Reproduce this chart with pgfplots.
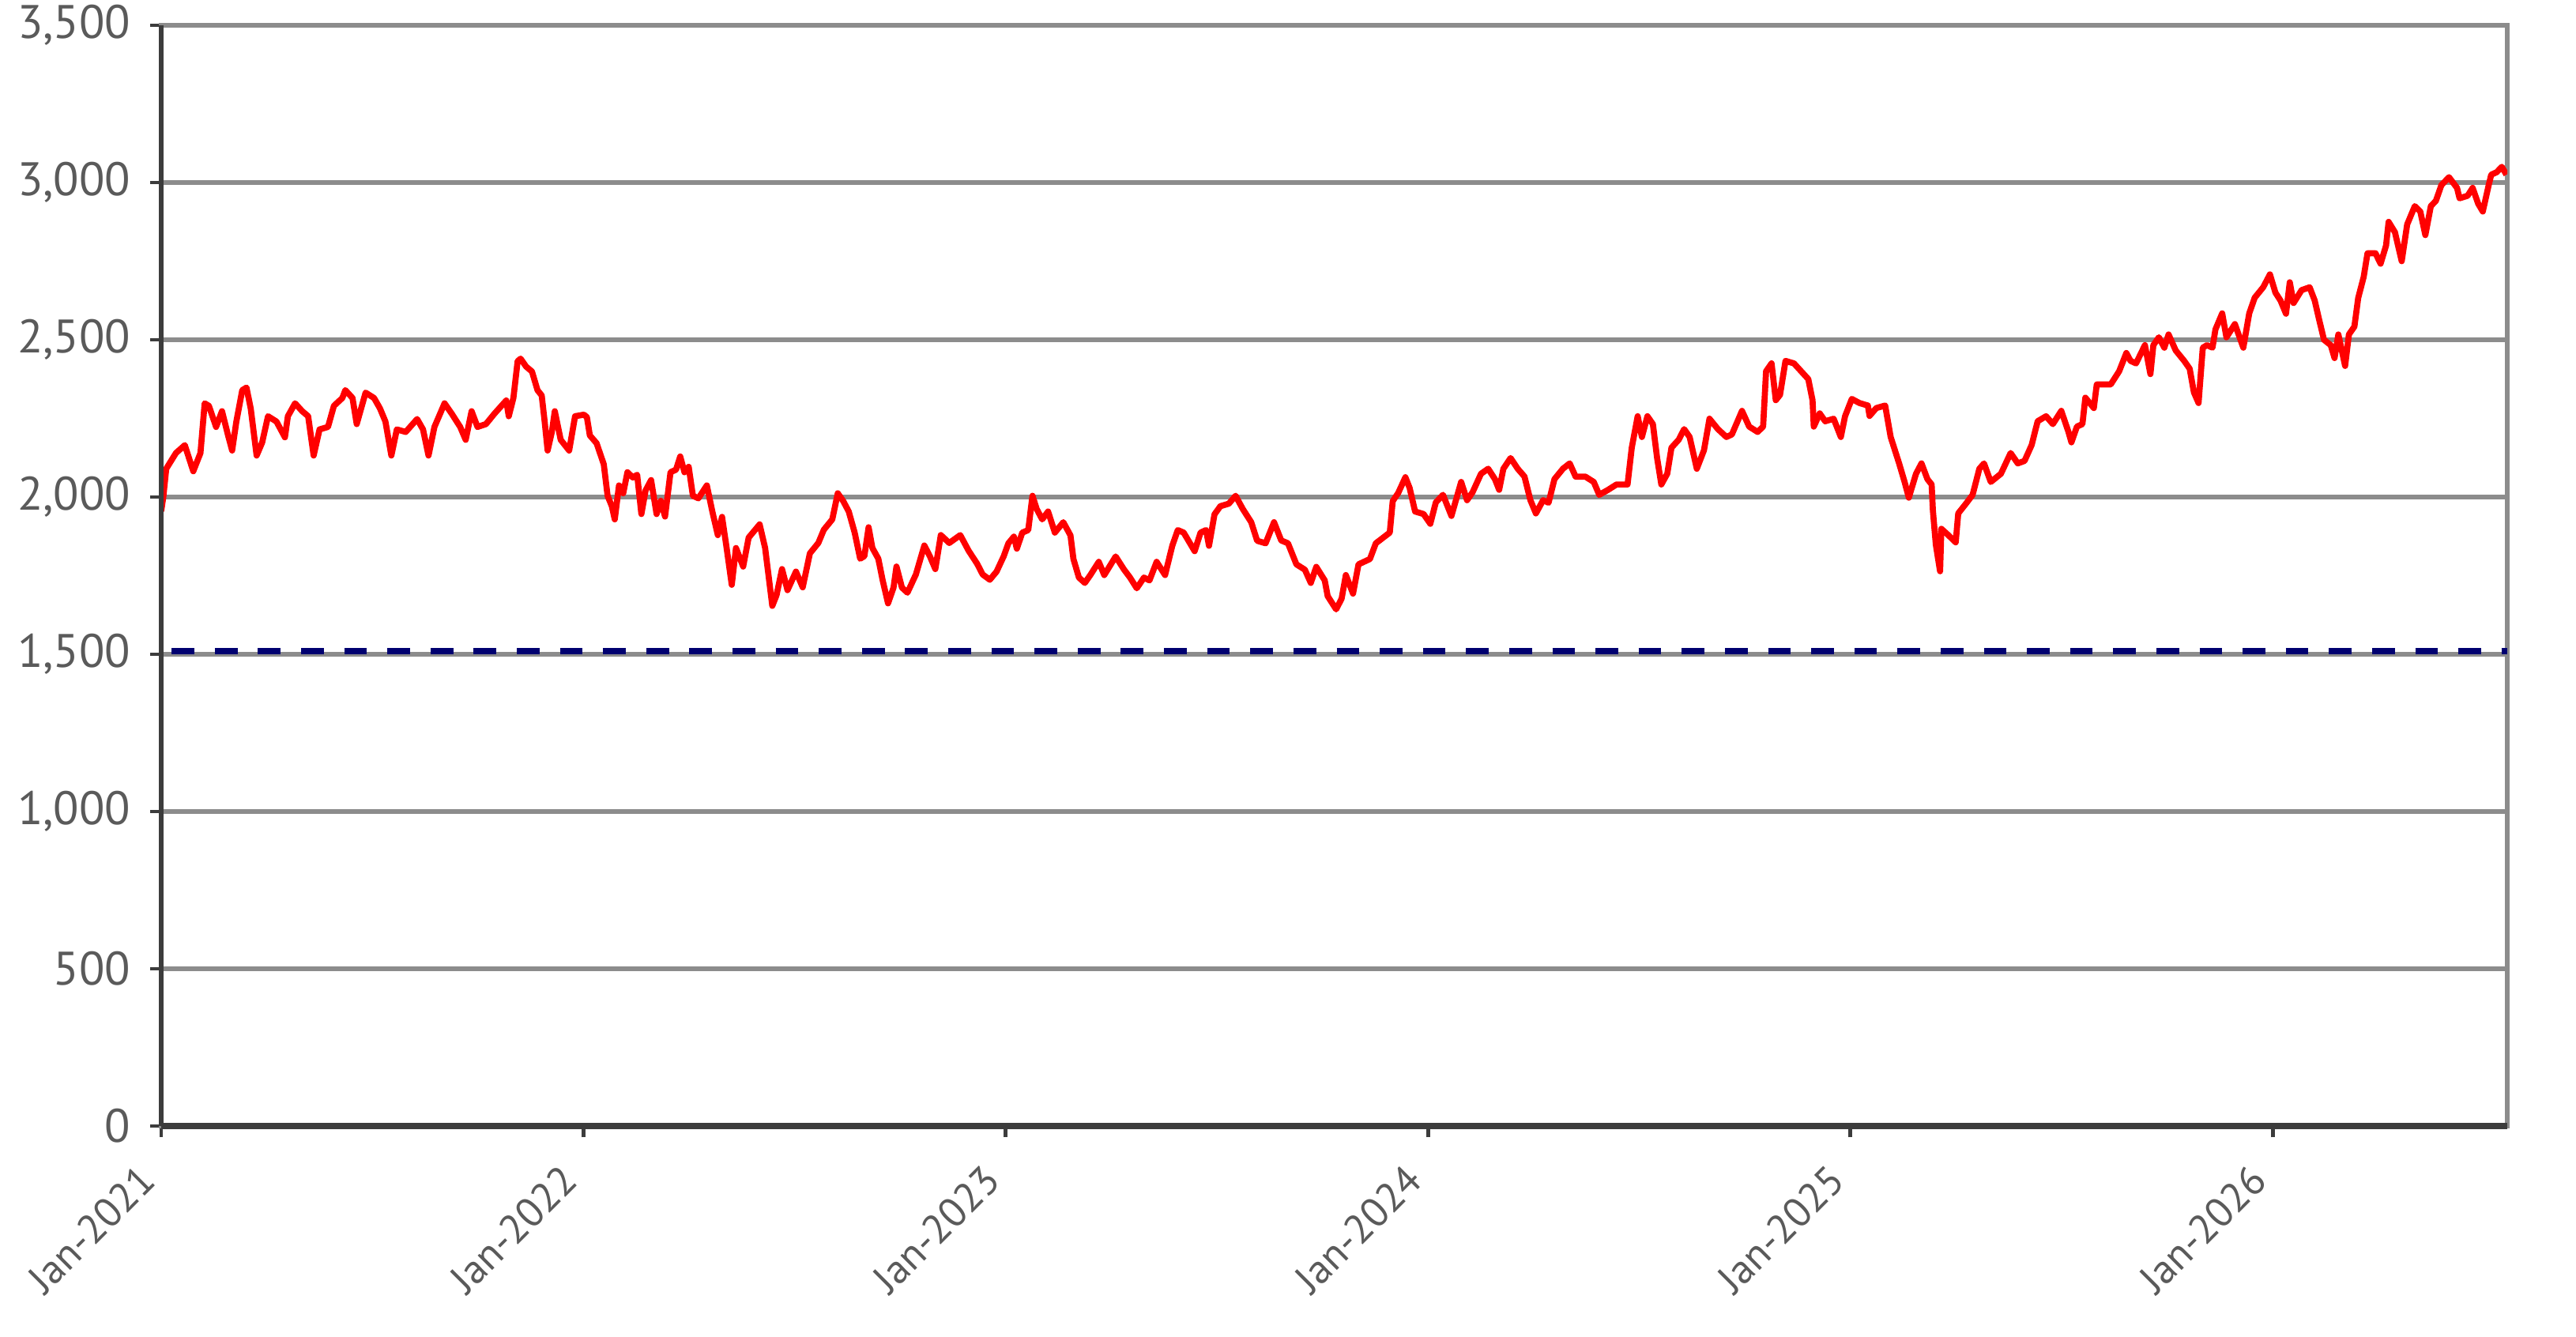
\documentclass[border=0pt]{standalone}
\usepackage{fontspec}
\setmainfont{PT Sans}
\usepackage{pgfplots}
\usepackage{pgfplotstable}
\pgfplotsset{compat=1.18}
\definecolor{gridgray}{HTML}{8C8C8C}
\definecolor{axisdark}{HTML}{3C3C3C}
\definecolor{labgray}{HTML}{5A5A5A}
\definecolor{navyline}{HTML}{000070}

\pgfplotstableread{
t v
0.000 1955
0.005 2000
0.012 2090
0.035 2140
0.056 2165
0.076 2082
0.093 2140
0.103 2298
0.113 2290
0.130 2223
0.144 2273
0.158 2198
0.168 2148
0.178 2240
0.192 2340
0.202 2348
0.212 2282
0.226 2132
0.239 2173
0.253 2257
0.273 2240
0.293 2190
0.300 2257
0.317 2298
0.334 2273
0.348 2257
0.361 2132
0.375 2215
0.395 2223
0.409 2290
0.429 2315
0.436 2340
0.453 2315
0.463 2232
0.484 2332
0.504 2315
0.518 2282
0.531 2240
0.545 2132
0.558 2215
0.579 2207
0.606 2248
0.620 2215
0.633 2132
0.647 2223
0.671 2298
0.688 2265
0.708 2223
0.721 2182
0.735 2273
0.749 2223
0.769 2232
0.789 2265
0.817 2307
0.823 2257
0.834 2315
0.844 2432
0.851 2440
0.864 2415
0.878 2399
0.891 2340
0.901 2323
0.908 2240
0.915 2148
0.925 2207
0.932 2273
0.946 2182
0.966 2148
0.980 2257
1.001 2262
1.008 2254
1.015 2196
1.031 2171
1.048 2104
1.057 2004
1.067 1971
1.074 1929
1.084 2037
1.094 2012
1.104 2079
1.117 2062
1.127 2071
1.137 1946
1.147 2021
1.160 2054
1.173 1946
1.183 1988
1.193 1938
1.206 2079
1.219 2087
1.229 2129
1.239 2079
1.249 2096
1.259 2004
1.272 1996
1.292 2037
1.305 1954
1.318 1879
1.328 1937
1.338 1846
1.351 1721
1.361 1838
1.378 1779
1.391 1871
1.417 1913
1.430 1838
1.447 1654
1.457 1688
1.470 1771
1.483 1704
1.503 1763
1.519 1713
1.536 1821
1.556 1854
1.569 1896
1.589 1929
1.602 2012
1.615 1987
1.628 1954
1.642 1887
1.655 1804
1.665 1812
1.675 1904
1.684 1838
1.698 1804
1.708 1737
1.721 1662
1.734 1712
1.741 1779
1.754 1712
1.767 1696
1.787 1754
1.807 1846
1.820 1812
1.833 1771
1.846 1879
1.866 1854
1.892 1879
1.912 1829
1.932 1788
1.945 1754
1.962 1737
1.978 1763
1.995 1812
2.006 1853
2.019 1874
2.026 1836
2.039 1887
2.053 1895
2.060 1971
2.063 2004
2.073 1962
2.086 1929
2.100 1954
2.116 1887
2.136 1920
2.153 1878
2.160 1803
2.173 1744
2.187 1727
2.200 1752
2.220 1794
2.233 1752
2.260 1811
2.280 1769
2.294 1744
2.310 1710
2.327 1744
2.340 1735
2.357 1794
2.377 1752
2.394 1845
2.407 1895
2.421 1887
2.447 1828
2.461 1887
2.474 1895
2.481 1845
2.494 1945
2.508 1971
2.528 1979
2.544 2004
2.561 1962
2.581 1920
2.595 1861
2.615 1853
2.635 1920
2.652 1862
2.668 1853
2.688 1786
2.708 1769
2.722 1727
2.735 1778
2.755 1735
2.762 1685
2.782 1643
2.795 1677
2.805 1752
2.822 1693
2.835 1786
2.862 1803
2.876 1853
2.909 1887
2.916 1987
2.929 2013
2.946 2063
2.956 2029
2.969 1954
2.989 1946
3.005 1915
3.018 1983
3.035 2007
3.055 1940
3.078 2048
3.092 1990
3.105 2015
3.125 2074
3.142 2090
3.158 2057
3.168 2023
3.178 2090
3.195 2124
3.212 2090
3.228 2065
3.242 1990
3.255 1948
3.272 1990
3.285 1982
3.299 2057
3.319 2090
3.335 2107
3.349 2065
3.372 2065
3.392 2048
3.405 2007
3.426 2023
3.446 2040
3.472 2040
3.482 2157
3.496 2257
3.506 2191
3.519 2257
3.532 2232
3.542 2124
3.552 2040
3.566 2074
3.576 2157
3.593 2182
3.606 2216
3.619 2191
3.636 2090
3.653 2149
3.666 2249
3.686 2216
3.706 2191
3.719 2199
3.743 2274
3.760 2224
3.780 2207
3.793 2224
3.800 2400
3.813 2425
3.823 2308
3.833 2325
3.846 2433
3.866 2425
3.883 2400
3.900 2375
3.910 2308
3.913 2224
3.927 2266
3.940 2241
3.960 2249
3.977 2191
3.987 2257
4.003 2312
4.021 2299
4.041 2291
4.045 2258
4.061 2283
4.082 2291
4.095 2191
4.115 2107
4.128 2048
4.138 1998
4.155 2074
4.168 2107
4.182 2057
4.192 2040
4.195 1957
4.202 1848
4.212 1764
4.215 1899
4.229 1882
4.249 1856
4.255 1948
4.275 1982
4.289 2007
4.305 2090
4.316 2107
4.332 2048
4.356 2074
4.379 2140
4.396 2107
4.412 2115
4.429 2166
4.443 2241
4.463 2257
4.479 2232
4.499 2274
4.516 2207
4.523 2174
4.536 2224
4.549 2232
4.556 2316
4.576 2283
4.583 2358
4.603 2358
4.616 2358
4.636 2400
4.653 2458
4.663 2433
4.676 2425
4.697 2483
4.710 2391
4.717 2483
4.730 2508
4.743 2475
4.753 2517
4.770 2466
4.790 2433
4.803 2408
4.813 2333
4.824 2299
4.834 2475
4.844 2483
4.857 2475
4.864 2533
4.880 2584
4.890 2508
4.910 2550
4.930 2475
4.944 2584
4.957 2634
4.977 2667
4.993 2708
5.006 2650
5.018 2625
5.031 2583
5.040 2683
5.049 2617
5.068 2658
5.087 2667
5.099 2625
5.109 2567
5.121 2500
5.137 2483
5.146 2442
5.155 2517
5.171 2417
5.180 2517
5.193 2542
5.202 2633
5.215 2700
5.224 2775
5.243 2775
5.255 2742
5.268 2800
5.274 2875
5.289 2842
5.305 2750
5.318 2867
5.336 2925
5.349 2908
5.361 2833
5.374 2925
5.386 2942
5.399 2992
5.417 3017
5.436 2983
5.442 2950
5.461 2958
5.473 2983
5.486 2933
5.497 2908
5.511 2992
5.517 3025
5.530 3033
5.542 3050
5.553 3025
}\series

\begin{document}
\begin{tikzpicture}
\useasboundingbox (-29.14pt,-38pt) rectangle (436.57pt,203.57pt);
\begin{axis}[
  name=ax,
  at={(0,0)}, anchor=south west,
  scale only axis, width=424.14pt, height=199pt,
  xmin=0, xmax=5.555, ymin=0, ymax=3500,
  xtick={0,1,2,3,4,5},
  xticklabels={Jan-2021,Jan-2022,Jan-2023,Jan-2024,Jan-2025,Jan-2026},
  ytick={0,500,1000,1500,2000,2500,3000,3500},
  ymajorgrids,
  grid style={gridgray, line width=0.75pt},
  axis line style={gridgray, line width=0.75pt},
  tick align=outside, major tick length=2pt,
  tick style={axisdark, line width=0.7pt},
  xtick pos=bottom, ytick pos=left,
  ticklabel style={font=\fontsize{8.5}{10}\selectfont, text=labgray},
  xticklabel style={font=\fontsize{7.4}{9}\selectfont, rotate=45, anchor=east},
  xticklabel shift=4pt,
  /pgf/number format/1000 sep={,},
  /pgf/number format/assume math mode=true,
]
\addplot[navyline, line width=1.1pt, dash pattern=on 4.1pt off 3.7pt, dash phase=5.9pt] coordinates {(0,1510) (5.555,1510)};
\addplot[red, line width=1.1pt, line join=round] table[x=t,y=v]{\series};
\end{axis}
\draw[axisdark, line width=0.85pt] (ax.north west) -- (ax.south west);
\draw[axisdark, line width=1.1pt] (ax.south west) -- (ax.south east);
\end{tikzpicture}
\end{document}
